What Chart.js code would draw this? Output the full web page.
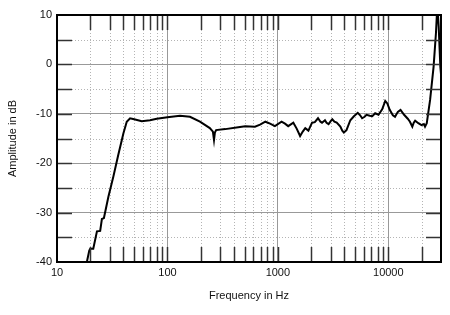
<!DOCTYPE html>
<html>
<head>
<meta charset="utf-8">
<script src="https://cdn.jsdelivr.net/npm/chart.js@4.4.0/dist/chart.umd.min.js"></script>
<style>
html, body { margin:0; padding:0; background:#fff; }
</style>
</head>
<body>
<canvas id="fr" width="450" height="315"></canvas>
<script>
var freqHz = [18.3, 18.8, 19.6, 20.0, 21.3, 23.0, 24.6, 25.5, 26.6, 29.2, 32.4, 35.9, 39.9, 42.8, 45.9,
    50, 58.5, 69.5, 80, 100, 130, 160, 197, 242, 258, 264, 269, 276, 334, 438, 506, 620, 690, 770,
    850, 940, 1080, 1160, 1240, 1380, 1480, 1590, 1680, 1770, 1890, 2040, 2160, 2310, 2430, 2510,
    2670, 2760, 2880, 3010, 3110, 3250, 3410, 3680, 3830, 3960, 4180, 4530, 4880, 5290, 5560, 5790,
    6100, 6350, 6800, 7160, 7600, 8150, 8800, 9380, 9800, 10300, 11000, 11500, 12200, 12900, 13900,
    15000, 15700, 16500, 17000, 17500, 18700, 20000, 21000, 21500, 22300, 23900, 25700, 27000,
    27800, 28600, 29600, 30000];
var levelDb = [-41, -39.6, -37.7, -37.3, -37.3, -33.8, -33.7, -31.3, -31.1, -26.8, -22.7, -18.3, -14.0, -11.6, -10.9,
    -11.1, -11.5, -11.3, -11.0, -10.7, -10.4, -10.6, -11.6, -12.9, -13.6, -15.3, -13.8, -13.3, -13.1, -12.7, -12.5, -12.6, -12.2, -11.6,
    -12.0, -12.5, -11.6, -12.0, -12.5, -11.8, -13.0, -14.5, -13.6, -12.9, -13.4, -11.8, -11.7, -10.9, -11.6, -11.8,
    -11.3, -11.8, -12.1, -11.5, -11.1, -11.6, -11.8, -12.6, -13.4, -13.8, -13.3, -11.3, -10.5, -9.8, -10.3, -10.9,
    -10.6, -10.2, -10.4, -10.5, -9.9, -10.2, -9.1, -7.4, -7.9, -9.2, -10.3, -10.6, -9.6, -9.2, -10.2,
    -11.0, -11.6, -12.6, -11.8, -11.4, -11.9, -12.3, -12.1, -12.6, -11.9, -7.2, -0.5, 6.3,
    12, 7.6, -0.5, -2];

// axis ticks
var decadeHz = [10, 100, 1000, 10000];
var minorHz = [20, 30, 40, 50, 60, 70, 80, 90, 200, 300, 400, 500, 600, 700, 800, 900,
    2000, 3000, 4000, 5000, 6000, 7000, 8000, 9000, 20000];
var dbTicks = [-40, -35, -30, -25, -20, -15, -10, -5, 0, 5, 10];

var fontFam = '"Liberation Sans", Arial, sans-serif';

// ---------- dotted minor grid + inward tick marks ----------
var markPlugin = {
    id: 'markPlugin',
    beforeDatasetsDraw: function(chart) {
        var c = chart.ctx, a = chart.chartArea;
        var xs = chart.scales.x, ys = chart.scales.y;
        c.save();
        c.strokeStyle = '#b4b4b4';
        c.lineWidth = 1;
        c.setLineDash([1, 2]);
        minorHz.forEach(function(f) {
            var px = Math.round(xs.getPixelForValue(f)) + 0.5;
            c.beginPath(); c.moveTo(px, a.top); c.lineTo(px, a.bottom); c.stroke();
        });
        dbTicks.forEach(function(v) {
            if (v % 10 === 0) return;
            var py = Math.round(ys.getPixelForValue(v)) + 0.5;
            c.beginPath(); c.moveTo(a.left, py); c.lineTo(a.right, py); c.stroke();
        });
        c.restore();
    },
    afterDraw: function(chart) {
        var c = chart.ctx, a = chart.chartArea;
        var xs = chart.scales.x, ys = chart.scales.y;
        var len = 15;
        c.save();
        c.strokeStyle = '#333';
        c.lineWidth = 1.5;
        minorHz.concat([100, 1000, 10000]).forEach(function(f) {
            var px = Math.round(xs.getPixelForValue(f)) + 0.5;
            c.beginPath(); c.moveTo(px, a.top); c.lineTo(px, a.top + len); c.stroke();
            c.beginPath(); c.moveTo(px, a.bottom); c.lineTo(px, a.bottom - len); c.stroke();
        });
        dbTicks.forEach(function(v) {
            if (v === 10 || v === -40) return;
            var py = Math.round(ys.getPixelForValue(v)) + 0.5;
            c.beginPath(); c.moveTo(a.left, py); c.lineTo(a.left + len, py); c.stroke();
            c.beginPath(); c.moveTo(a.right, py); c.lineTo(a.right - len, py); c.stroke();
        });
        c.strokeStyle = '#000';
        c.lineWidth = 2;
        c.strokeRect(a.left, a.top, a.right - a.left, a.bottom - a.top);
        c.restore();
    }
};

var ctx = document.getElementById('fr').getContext('2d');
var chart = new Chart(ctx, {
    type: 'scatter',
    data: {
        datasets: [{
            data: freqHz.map(function(f, i) { return {x: f, y: levelDb[i]}; }),
            showLine: true,
            borderColor: '#000',
            borderWidth: 2,
            pointRadius: 0,
            tension: 0,
            clip: 1
        }]
    },
    options: {
        responsive: false,
        animation: false,
        layout: { padding: {top: 15, right: 9, left: 0, bottom: 0} },
        plugins: {
            legend: { display: false },
            tooltip: { enabled: false }
        },
        scales: {
            x: {
                type: 'logarithmic',
                min: 10,
                max: 30000,
                afterBuildTicks: function(s) {
                    s.ticks = decadeHz.map(function(v) { return {value: v}; });
                },
                afterFit: function(s) { s.height = 53; },
                ticks: {
                    autoSkip: false,
                    maxRotation: 0,
                    padding: 4,
                    color: '#111',
                    font: { family: fontFam, size: 11 },
                    callback: function(v) { return String(v); }
                },
                grid: {
                    drawTicks: false,
                    color: function(c) { return (c.tick && c.tick.value > 10) ? '#999' : 'rgba(0,0,0,0)'; }
                },
                border: { display: false },
                title: {
                    display: true,
                    text: 'Frequency in Hz',
                    color: '#111',
                    font: { family: fontFam, size: 11 },
                    padding: {top: 0, bottom: 12}
                }
            },
            y: {
                min: -40,
                max: 10,
                afterBuildTicks: function(s) {
                    s.ticks = dbTicks.map(function(v) { return {value: v}; });
                },
                afterFit: function(s) { s.width = 57; },
                ticks: {
                    autoSkip: false,
                    padding: 5,
                    color: '#111',
                    font: { family: fontFam, size: 11 },
                    callback: function(v) { return v % 10 === 0 ? String(v) : ''; }
                },
                grid: {
                    drawTicks: false,
                    color: function(c) {
                        var v = c.tick ? c.tick.value : 1;
                        return (v % 10 === 0 && v > -40 && v < 10) ? '#999' : 'rgba(0,0,0,0)';
                    }
                },
                border: { display: false },
                title: {
                    display: true,
                    text: 'Amplitude in dB',
                    color: '#111',
                    font: { family: fontFam, size: 11 },
                    padding: {top: 6, bottom: 0}
                }
            }
        }
    },
    plugins: [markPlugin]
});
</script>
</body>
</html>
